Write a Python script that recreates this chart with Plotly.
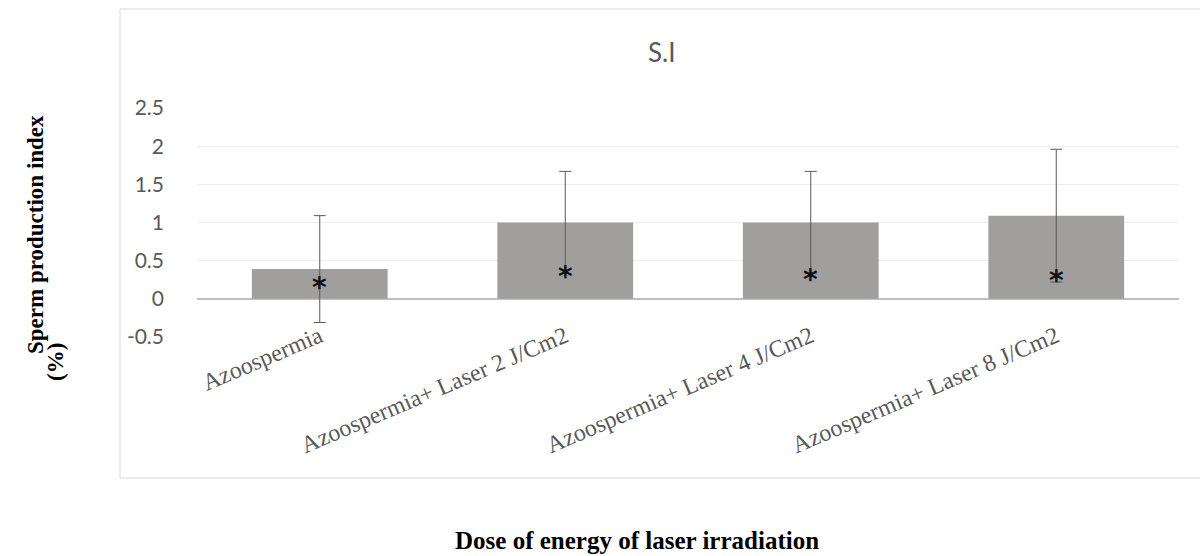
import plotly.graph_objects as go

categories = ["Azoospermia", "Azoospermia+ Laser 2 J/Cm2",
              "Azoospermia+ Laser 4 J/Cm2", "Azoospermia+ Laser 8 J/Cm2"]
values = [0.39, 1.0, 1.0, 1.09]
errors = [0.70, 0.67, 0.67, 0.87]
star_y = [0.20, 0.34, 0.31, 0.29]
y_ticks = [-0.5, 0, 0.5, 1, 1.5, 2, 2.5]
y_tick_text = ["-0.5", "0", "0.5", "1", "1.5", "2", "2.5"]

W, H = 1200, 556
L, R, T, B = 197, 21, 108, 219
pw, ph = W - L - R, H - T - B

def px_x(x):
    return (x - L) / pw

def px_y(y):
    return (H - B - y) / ph

fig = go.Figure()
fig.add_trace(go.Bar(
    x=categories, y=values,
    marker=dict(color="#a19e9e", line=dict(width=0)),
    error_y=dict(type="data", array=errors, visible=True,
                 color="#595959", thickness=1, width=6),
    width=0.553,
    showlegend=False, hoverinfo="skip",
))

annotations = [
    dict(text="S.I", xref="paper", yref="paper",
         x=px_x(662), y=px_y(52), xanchor="center", yanchor="middle",
         showarrow=False,
         font=dict(family="Lato", size=26, color="#595959")),
    dict(text="<b>Dose of energy of laser irradiation</b>",
         xref="paper", yref="paper",
         x=px_x(637), y=px_y(540), xanchor="center", yanchor="middle",
         showarrow=False,
         font=dict(family="Liberation Serif", size=25, color="#000000")),
    dict(text="<b>Sperm production index</b>",
         xref="paper", yref="paper", textangle=-90,
         x=px_x(35), y=px_y(235), xanchor="center", yanchor="middle",
         showarrow=False,
         font=dict(family="Liberation Serif", size=23, color="#000000")),
    dict(text="<b>(%)</b>",
         xref="paper", yref="paper", textangle=-90,
         x=px_x(55), y=px_y(362), xanchor="center", yanchor="middle",
         showarrow=False,
         font=dict(family="Liberation Serif", size=23, color="#000000")),
]
for c, sy in zip(categories, star_y):
    annotations.append(dict(
        text="<b>*</b>", x=c, y=sy, xref="x", yref="y",
        xanchor="center", yanchor="middle", yshift=-4, showarrow=False,
        font=dict(family="DejaVu Sans", size=28, color="#111111"),
    ))

fig.update_layout(
    width=W, height=H,
    margin=dict(l=L, r=R, t=T, b=B),
    paper_bgcolor="white", plot_bgcolor="white",
    xaxis=dict(
        tickangle=-23,
        tickfont=dict(family="Liberation Serif", size=24, color="#595959"),
        showgrid=False, showline=False, zeroline=False, ticks="",
        ticklabelstandoff=-20,
    ),
    yaxis=dict(
        range=[-0.5, 2.5],
        tickvals=y_ticks, ticktext=y_tick_text,
        tickfont=dict(family="Lato", size=21, color="#595959"),
        showgrid=True, gridcolor="#eeeeee", gridwidth=1,
        zeroline=True, zerolinecolor="#bfbfbf", zerolinewidth=2,
        showline=False, ticks="", ticklabelstandoff=32,
    ),
    shapes=[dict(
        type="rect", xref="paper", yref="paper",
        x0=px_x(120), x1=px_x(1210), y0=px_y(478), y1=px_y(9),
        line=dict(color="#d9d9d9", width=1), layer="below",
    )],
    annotations=annotations,
)

fig.write_html("out.html", config={"displayModeBar": False},
               post_script="document.body.style.margin='0';document.body.style.padding='0';")
